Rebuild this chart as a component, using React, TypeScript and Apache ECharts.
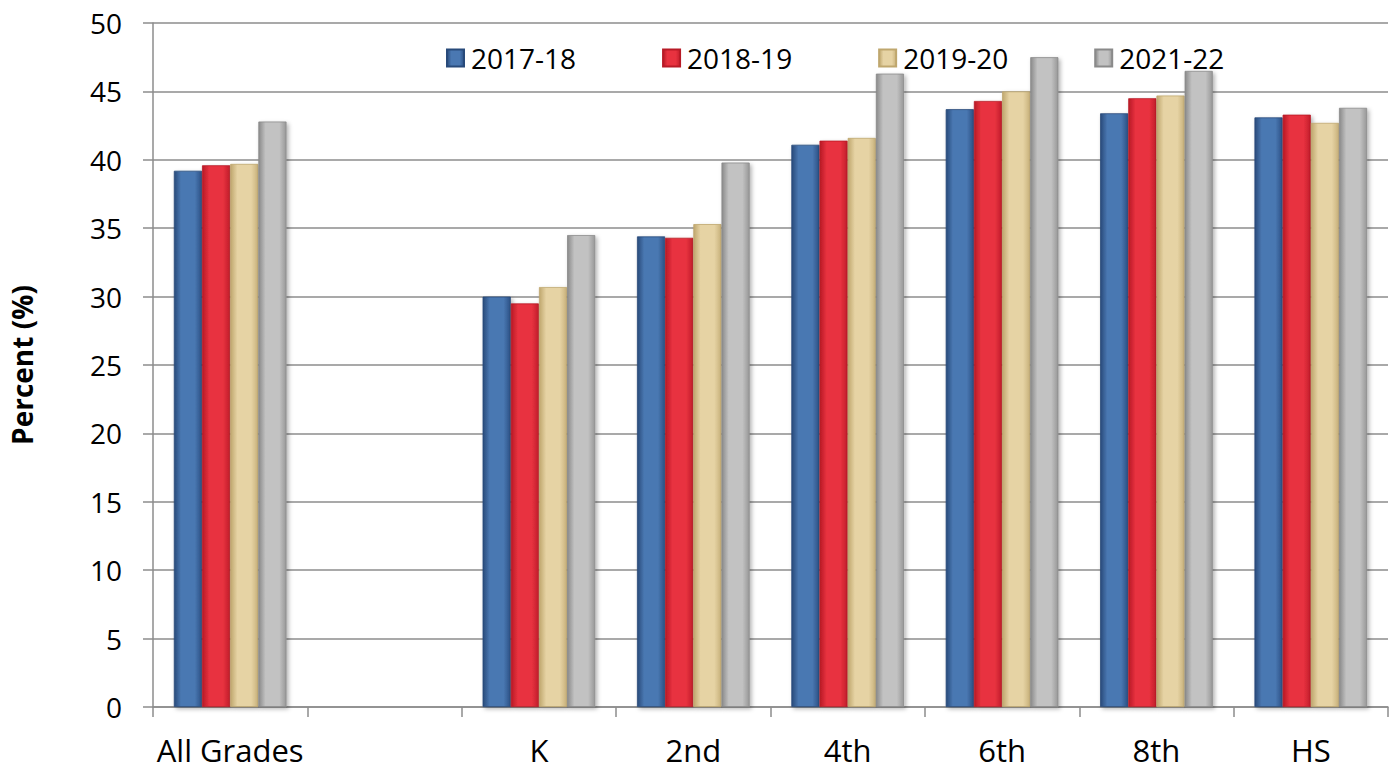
import React, { useEffect, useRef } from "react";
import * as echarts from "echarts";

const categories = ["All Grades", "", "K", "2nd", "4th", "6th", "8th", "HS"];
const seriesNames = ["2017-18", "2018-19", "2019-20", "2021-22"];
const v2017 = [39.2, null, 30.0, 34.4, 41.1, 43.7, 43.4, 43.1];
const v2018 = [39.6, null, 29.5, 34.3, 41.4, 44.3, 44.5, 43.3];
const v2019 = [39.7, null, 30.7, 35.3, 41.6, 45.0, 44.7, 42.7];
const v2021 = [42.8, null, 34.5, 39.8, 46.3, 47.5, 46.5, 43.8];
const yTicks = { min: 0, max: 50, interval: 5 };

const palettes = [
  ["#284a7a", "#4a78b2", "#2c5186"],
  ["#b81a26", "#e8323f", "#c21e2b"],
  ["#bfa76e", "#e6d3a4", "#c9b27c"],
  ["#8a8a8a", "#c2c2c2", "#989898"],
];

function grad(p: string[]) {
  return new echarts.graphic.LinearGradient(0, 0, 1, 0, [
    { offset: 0, color: p[0] },
    { offset: 0.25, color: p[1] },
    { offset: 0.75, color: p[1] },
    { offset: 1, color: p[2] },
  ]);
}

export default function App() {
  const ref = useRef<HTMLDivElement>(null);
  useEffect(() => {
    document.body.style.margin = "0";
    if (!ref.current) return;
    const chart = echarts.init(ref.current, null, { renderer: "svg" });
    const data = [v2017, v2018, v2019, v2021];
    const font = "'Open Sans', 'Noto Sans', sans-serif";
    chart.setOption({
      animation: false,
      textStyle: { fontFamily: font },
      grid: { left: 149, right: 5, top: 23, bottom: 62 },
      legend: {
        left: 446,
        top: 44,
        padding: 0,
        itemWidth: 17,
        itemHeight: 17,
        itemGap: 86,
        icon: "rect",
        textStyle: { fontSize: 28, color: "#000", fontFamily: font, padding: [0, 0, 0, 2] },
        data: seriesNames,
      },
      xAxis: {
        type: "category",
        data: categories,
        axisLine: { lineStyle: { color: "#8c8c8c", width: 1.5 } },
        axisTick: { show: true, length: 10, lineStyle: { color: "#8c8c8c", width: 1.5 } },
        axisLabel: { fontSize: 31, color: "#000", margin: 27, interval: 0, fontFamily: font },
      },
      yAxis: {
        type: "value",
        min: yTicks.min,
        max: yTicks.max,
        interval: yTicks.interval,
        name: "Percent (%)",
        nameLocation: "middle",
        nameGap: 117,
        nameTextStyle: { fontSize: 28, fontWeight: "bold", color: "#000", fontFamily: font },
        axisLine: { show: true, lineStyle: { color: "#8c8c8c", width: 1.5 } },
        axisTick: { show: true, length: 10, lineStyle: { color: "#8c8c8c", width: 1.5 } },
        axisLabel: { fontSize: 28, color: "#000", margin: 31, fontFamily: font },
        splitLine: { show: true, lineStyle: { color: "#8c8c8c", width: 1.5 } },
      },
      series: seriesNames.map((name, i) => ({
        name,
        type: "bar",
        data: data[i],
        barGap: "0%",
        barCategoryGap: "27%",
        itemStyle: {
          color: grad(palettes[i]),
          borderColor: palettes[i][0],
          borderWidth: 0.8,
          shadowBlur: 4,
          shadowOffsetX: 2,
          shadowOffsetY: 2,
          shadowColor: "rgba(0,0,0,0.3)",
        },
      })),
    });
    return () => chart.dispose();
  }, []);
  return <div ref={ref} style={{ width: 1393, height: 769 }} />;
}
